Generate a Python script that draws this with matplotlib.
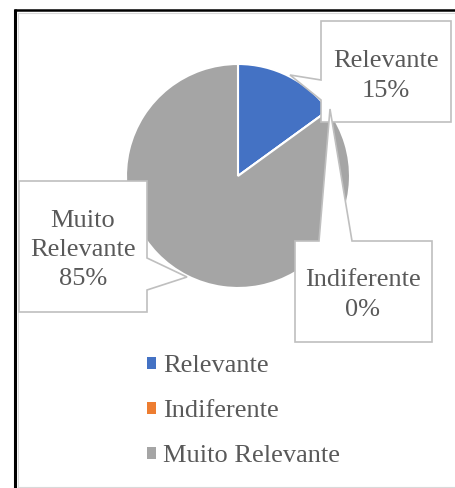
import matplotlib.pyplot as plt
from matplotlib.patches import Polygon, Patch

plt.rcParams['font.family'] = ['Liberation Serif', 'DejaVu Serif']

categories = ['Relevante', 'Indiferente', 'Muito Relevante']
label_lines = ['Relevante', 'Indiferente', 'Muito\nRelevante']
values = [15, 0, 85]
colors = ['#4472C4', '#ED7D31', '#A5A5A5']

W, H = 456, 488
TXT = '#595959'
EDGE = '#BFBFBF'


def py(y):
    # pixel row (from top) -> data y
    return H - y


fig = plt.figure(figsize=(W / 100, H / 100), dpi=100)
ax = fig.add_axes([0, 0, 1, 1])

wedges, _ = ax.pie(values, colors=colors, startangle=90, counterclock=False,
                   center=(238, py(176)), radius=112,
                   wedgeprops=dict(edgecolor='white', linewidth=1.5))

# callout shapes (box + pointer), pixel coords from top-left
callouts = [
    [(321, 21), (451, 21), (451, 122), (321, 122), (321, 100), (290, 75), (321, 80)],
    [(295, 241), (319, 241), (330, 109), (352, 241), (432, 241), (432, 342), (295, 342)],
    [(19, 181), (147, 181), (147, 258), (187, 277), (147, 290), (147, 312), (19, 312)],
]
text_pos = [(386, 76), (363, 295), (83, 250)]

total = sum(values)
for shape, (tx, ty), name, v in zip(callouts, text_pos, label_lines, values):
    pts = [(x, py(y)) for x, y in shape]
    ax.add_patch(Polygon(pts, closed=True, facecolor='white', edgecolor=EDGE,
                         linewidth=1.2, zorder=5))
    ax.text(tx, py(ty), f"{name}\n{round(v / total * 100)}%", ha='center',
            va='center', fontsize=19, color=TXT, linespacing=1.44, zorder=6)

handles = [Patch(facecolor=c, edgecolor='none') for c in colors]
ax.legend(handles, categories, loc='upper left',
          bbox_to_anchor=(147 / W, py(355.5) / H), frameon=False, fontsize=19,
          labelcolor=TXT, handlelength=0.34, handleheight=0.34,
          handletextpad=0.27, labelspacing=0.87, borderpad=0, borderaxespad=0)

# chart frame
ax.plot([15.5, 15.5], [py(9), py(488)], color='black', lw=2.2, solid_capstyle='butt')
ax.plot([14, 456], [py(10), py(10)], color='black', lw=1.8, solid_capstyle='butt')
ax.plot([17.8, 17.8], [py(12.5), py(488)], color='#D9D9D9', lw=0.8)
ax.plot([17.8, 456], [py(12.5), py(12.5)], color='#D9D9D9', lw=0.8)
ax.plot([17.8, 456], [py(486.5), py(486.5)], color='#D9D9D9', lw=0.8)

ax.set_xlim(0, W)
ax.set_ylim(0, H)
ax.set_aspect('auto')
ax.axis('off')

fig.savefig('out.png', dpi=100)
